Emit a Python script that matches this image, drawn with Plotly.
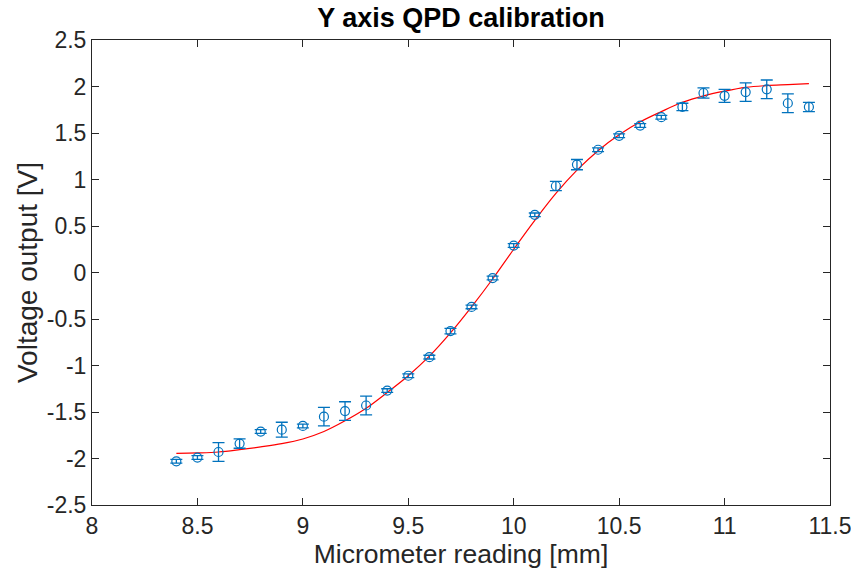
import plotly.graph_objects as go

x_meas = [8.4, 8.5, 8.6, 8.7, 8.8, 8.9, 9.0, 9.1, 9.2, 9.3, 9.4, 9.5, 9.6, 9.7, 9.8, 9.9,
          10.0, 10.1, 10.2, 10.3, 10.4, 10.5, 10.6, 10.7, 10.8, 10.9, 11.0, 11.1, 11.2, 11.3, 11.4]
v_meas = [-2.03, -1.99, -1.93, -1.84, -1.71, -1.69, -1.65, -1.55, -1.49, -1.43, -1.27, -1.11,
          -0.91, -0.63, -0.37, -0.06, 0.29, 0.62, 0.93, 1.16, 1.32, 1.47, 1.58, 1.67, 1.78,
          1.93, 1.90, 1.94, 1.97, 1.82, 1.78]
v_err = [0.02, 0.02, 0.10, 0.05, 0.02, 0.08, 0.02, 0.10, 0.10, 0.10, 0.02, 0.02,
         0.02, 0.03, 0.02, 0.02, 0.02, 0.02, 0.05, 0.055, 0.02, 0.02, 0.02, 0.02, 0.04,
         0.055, 0.07, 0.10, 0.10, 0.10, 0.05]

x_fit = [8.4, 8.5, 8.6, 8.7, 8.8, 8.9, 9.0, 9.1, 9.2, 9.3, 9.4, 9.5, 9.6, 9.7, 9.8, 9.9,
         10.0, 10.1, 10.2, 10.3, 10.4, 10.5, 10.6, 10.7, 10.8, 10.9, 11.0, 11.1, 11.2, 11.3, 11.4]
v_fit = [-1.945, -1.94, -1.93, -1.905, -1.875, -1.84, -1.79, -1.71, -1.595, -1.46, -1.29,
         -1.11, -0.90, -0.65, -0.37, -0.07, 0.25, 0.56, 0.85, 1.10, 1.31, 1.48, 1.62, 1.73,
         1.83, 1.90, 1.95, 1.99, 2.01, 2.02, 2.03]

x_ticks = [8, 8.5, 9, 9.5, 10, 10.5, 11, 11.5]
x_ticklabels = ["8", "8.5", "9", "9.5", "10", "10.5", "11", "11.5"]
y_ticks = [-2.5, -2, -1.5, -1, -0.5, 0, 0.5, 1, 1.5, 2, 2.5]
y_ticklabels = ["-2.5", "-2", "-1.5", "-1", "-0.5", "0", "0.5", "1", "1.5", "2", "2.5"]

blue = "#0072BD"
font = "Liberation Sans, Arial, Helvetica, sans-serif"
txt = "#262626"

fig = go.Figure()
fig.add_trace(go.Scatter(
    x=x_fit, y=v_fit, mode="lines", line=dict(color="#FF0000", width=1.2, shape="spline"),
    hoverinfo="skip", showlegend=False))
fig.add_trace(go.Scatter(
    x=x_meas, y=v_meas, mode="markers",
    marker=dict(symbol="circle-open", size=9, color=blue, line=dict(width=1.2, color=blue)),
    error_y=dict(type="data", array=v_err, visible=True, color=blue, thickness=1.3, width=6),
    showlegend=False))

axis_common = dict(
    showgrid=False, zeroline=False, showline=True, linecolor="#262626", linewidth=1,
    mirror="allticks", ticks="inside", ticklen=7, tickwidth=1, tickcolor="#262626",
    tickfont=dict(family=font, size=23, color=txt), automargin=False,
    ticklabeloverflow="allow",
)

fig.update_layout(
    width=851, height=569,
    margin=dict(l=92, r=21, t=40, b=64),
    paper_bgcolor="white", plot_bgcolor="white",
    title=dict(text="<b>Y axis QPD calibration</b>", x=(92 + 369) / 851, xanchor="center",
               y=1 - 18 / 569, yanchor="middle", automargin=False,
               font=dict(family=font, size=27, color="#000000")),
    xaxis=dict(range=[8, 11.5], tickvals=x_ticks, ticktext=x_ticklabels,
               title=dict(text="Micrometer reading [mm]", font=dict(family=font, size=26.5, color=txt),
                          standoff=0),
               **axis_common),
    yaxis=dict(range=[-2.5, 2.5], tickvals=y_ticks, ticktext=y_ticklabels,
               title=dict(text="Voltage output [V]", font=dict(family=font, size=28, color=txt),
                          standoff=0),
               **axis_common),
)

fig.write_html("out.html")
